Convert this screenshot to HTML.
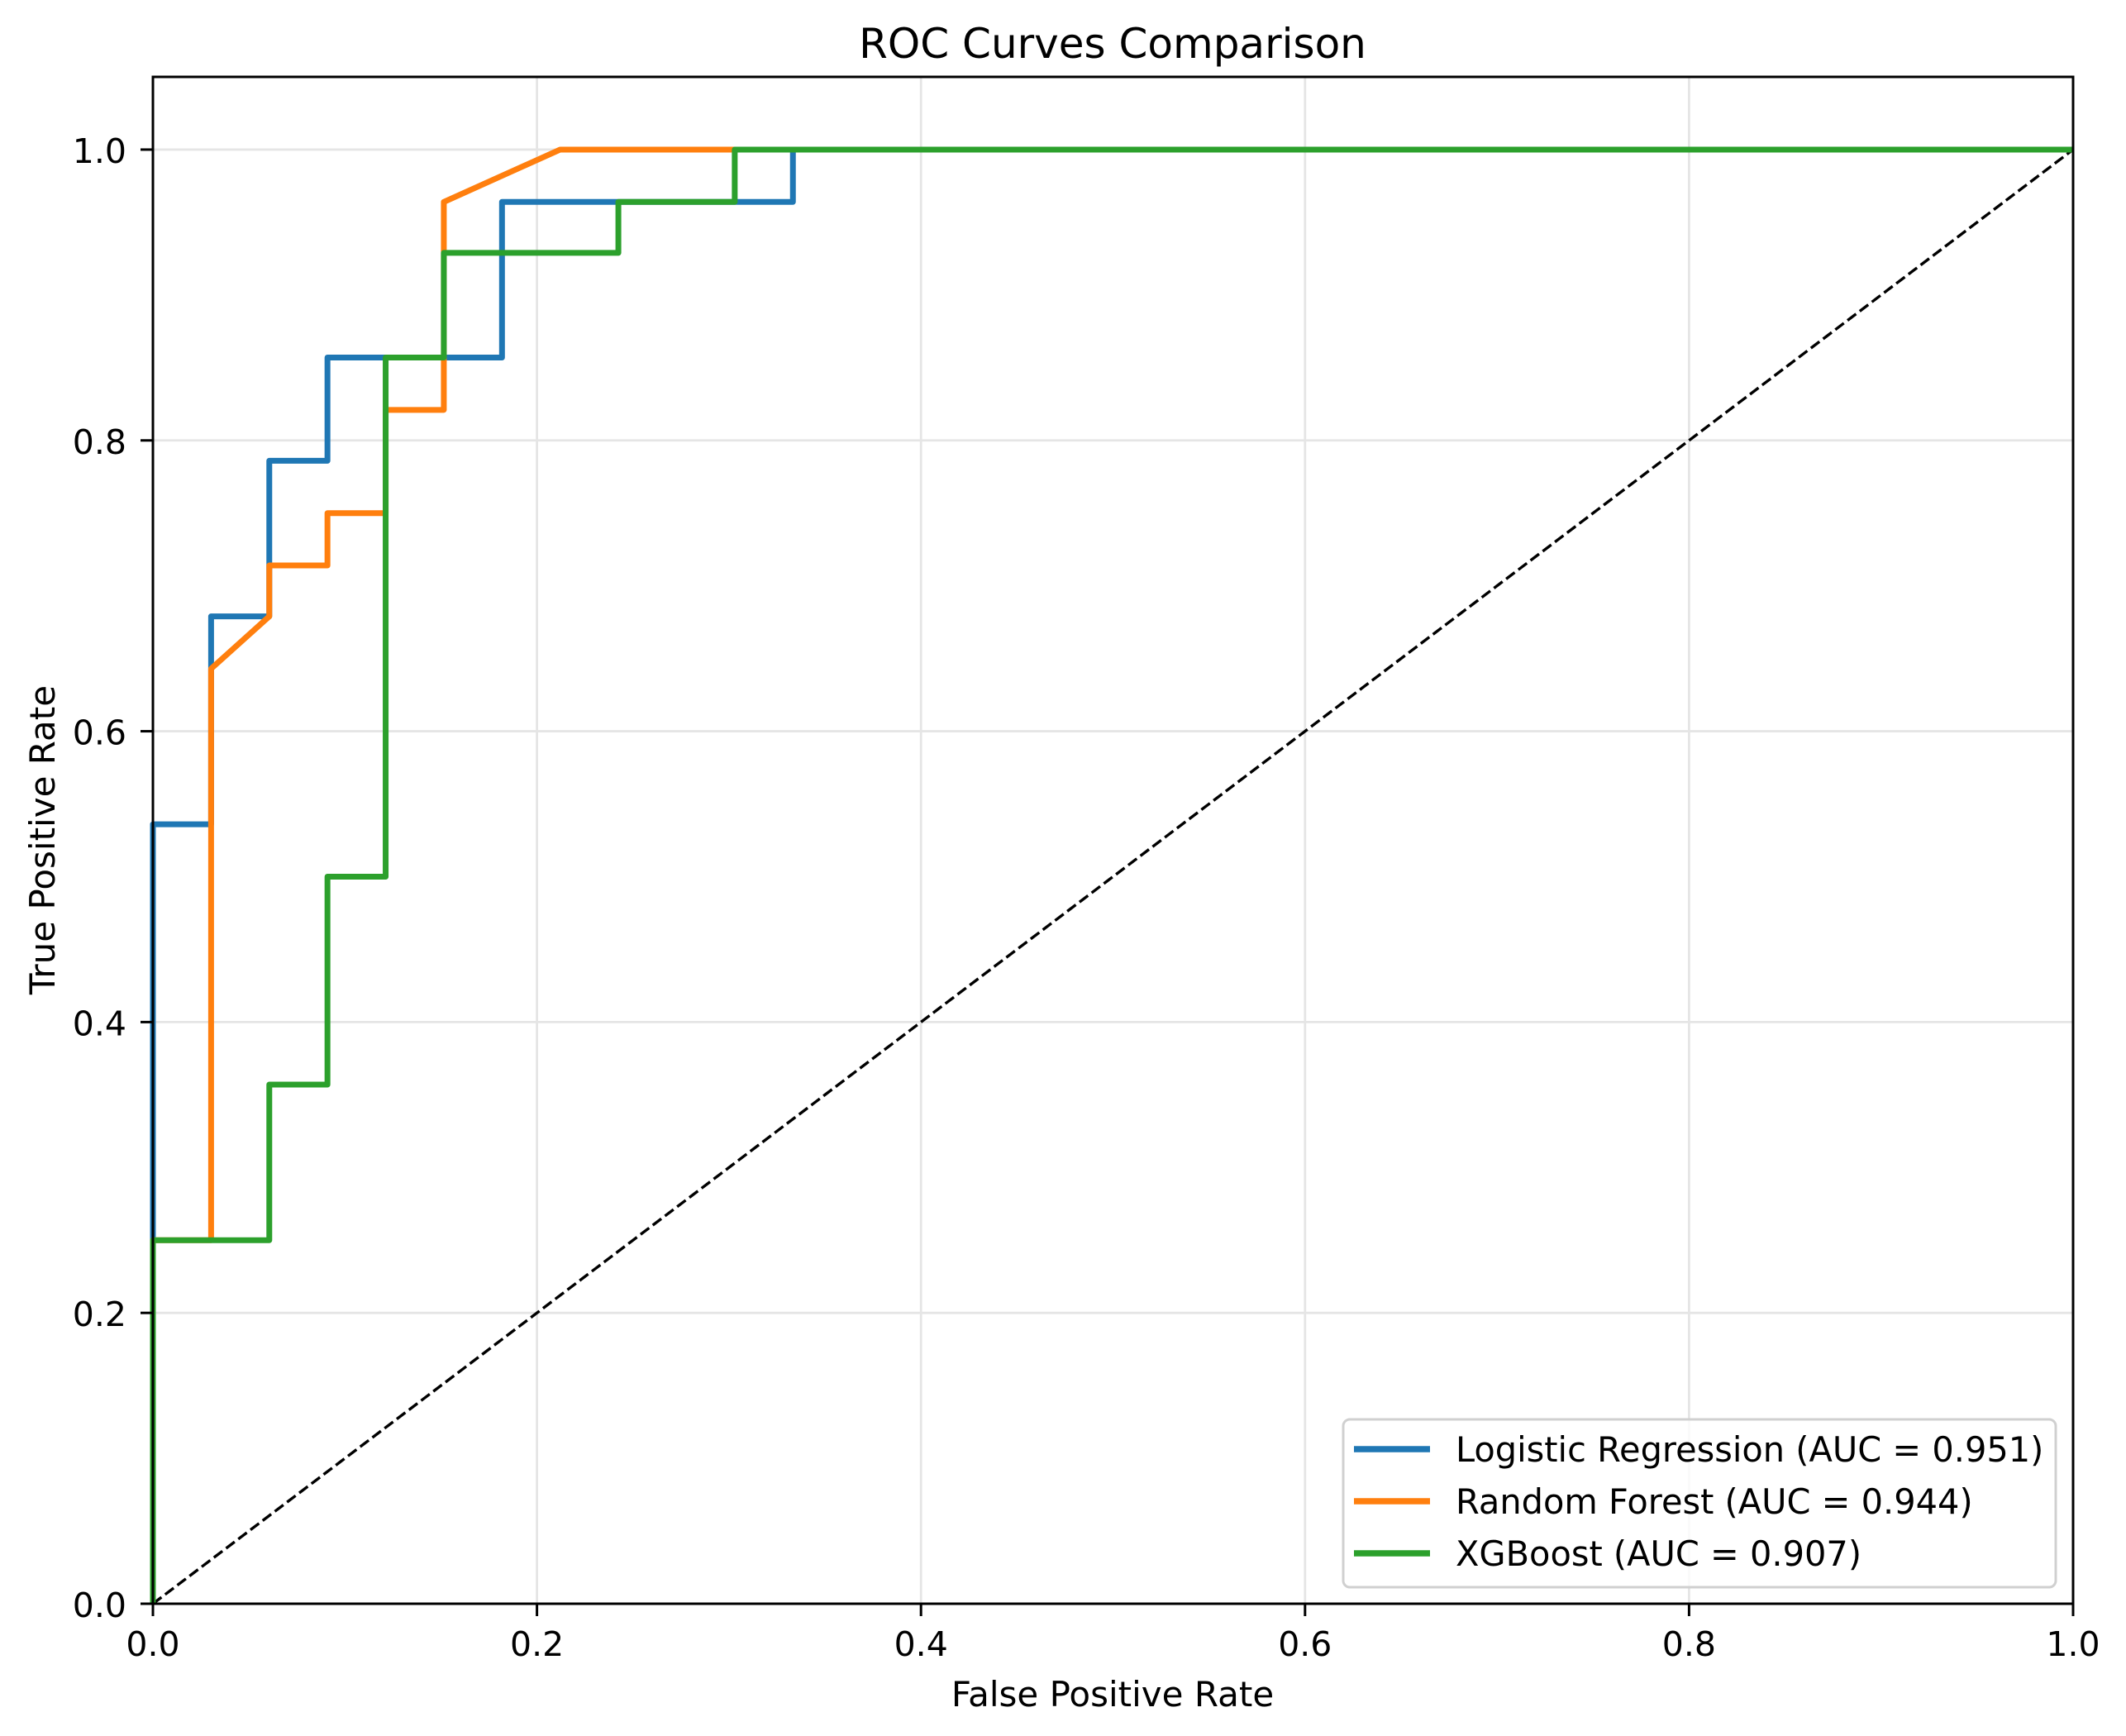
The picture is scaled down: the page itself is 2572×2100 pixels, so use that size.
<!DOCTYPE html>
<html><head><meta charset="utf-8"><style>
html,body{margin:0;padding:0;background:#fff;}
svg{display:block;font-family:"DejaVu Sans","Liberation Sans",sans-serif;}
</style></head><body>
<svg id="chart" width="2572" height="2100" viewBox="0 0 2572 2100">
<rect width="2572" height="2100" fill="#fff"/>
<g id="grid"></g>
<g id="diag"></g>
<g id="series"></g>
<rect x="185" y="93" width="2323" height="1847" fill="none" stroke="#000" stroke-width="3"/>
<g id="ticks"></g>
<text x="1346" y="70" text-anchor="middle" font-size="50">ROC Curves Comparison</text>
<text x="1346" y="2064" text-anchor="middle" font-size="42">False Positive Rate</text>
<text transform="translate(66,1016) rotate(-90)" text-anchor="middle" font-size="42">True Positive Rate</text>
<g id="legend"></g>
</svg>
<script>
const xTicks=[0,0.2,0.4,0.6,0.8,1.0];
const yTicks=[0,0.2,0.4,0.6,0.8,1.0];
const seriesNames=["Logistic Regression (AUC = 0.951)","Random Forest (AUC = 0.944)","XGBoost (AUC = 0.907)"];
const seriesColors=["#1f77b4","#ff7f0e","#2ca02c"];
const lrX=[0,0,0.0303,0.0303,0.0606,0.0606,0.0909,0.0909,0.1818,0.1818,0.3333,0.3333,1];
const lrY=[0,0.536,0.536,0.679,0.679,0.786,0.786,0.857,0.857,0.964,0.964,1,1];
const rfX=[0,0,0.0303,0.0303,0.0606,0.0606,0.0909,0.0909,0.1212,0.1212,0.1515,0.1515,0.2121,1];
const rfY=[0,0.25,0.25,0.643,0.679,0.714,0.714,0.75,0.75,0.821,0.821,0.964,1,1];
const xgX=[0,0,0.0606,0.0606,0.0909,0.0909,0.1212,0.1212,0.1515,0.1515,0.2424,0.2424,0.303,0.303,1];
const xgY=[0,0.25,0.25,0.357,0.357,0.5,0.5,0.857,0.857,0.929,0.929,0.964,0.964,1,1];
const L=185,R=2508,T=93,B=1940;
const sx=v=>L+(R-L)*v;
const sy=v=>B-(B-T)*v/1.05;
const NS="http://www.w3.org/2000/svg";
function mk(tag,parent){const e=document.createElementNS(NS,tag);parent.appendChild(e);return e;}
const grid=document.getElementById('grid'),ticks=document.getElementById('ticks');
xTicks.forEach(v=>{
 const g=mk('line',grid);g.setAttribute('x1',sx(v));g.setAttribute('x2',sx(v));g.setAttribute('y1',T);g.setAttribute('y2',B);g.setAttribute('stroke','#e5e5e5');g.setAttribute('stroke-width','2.8');
 
 
 const t=mk('line',ticks);t.setAttribute('x1',sx(v));t.setAttribute('x2',sx(v));t.setAttribute('y1',B);t.setAttribute('y2',B+15);t.setAttribute('stroke','#000');t.setAttribute('stroke-width','3');
 
 
 const l=mk('text',ticks);l.setAttribute('x',sx(v));l.setAttribute('y',2003);l.setAttribute('text-anchor','middle');l.setAttribute('font-size','41');l.textContent=v.toFixed(1);
 
 
});
yTicks.forEach(v=>{
 const g=mk('line',grid);g.setAttribute('y1',sy(v));g.setAttribute('y2',sy(v));g.setAttribute('x1',L);g.setAttribute('x2',R);g.setAttribute('stroke','#e5e5e5');g.setAttribute('stroke-width','2.8');
 
 
 const t=mk('line',ticks);t.setAttribute('y1',sy(v));t.setAttribute('y2',sy(v));t.setAttribute('x1',L-15);t.setAttribute('x2',L);t.setAttribute('stroke','#000');t.setAttribute('stroke-width','3');
 
 
 const l=mk('text',ticks);l.setAttribute('x',153);l.setAttribute('y',sy(v)+16);l.setAttribute('text-anchor','end');l.setAttribute('font-size','41');l.textContent=v.toFixed(1);
 
 
});
const d=mk('line',document.getElementById('diag'));
d.setAttribute('x1',sx(0));d.setAttribute('y1',sy(0));d.setAttribute('x2',sx(1));d.setAttribute('y2',sy(1));
d.setAttribute('stroke','#000');d.setAttribute('stroke-width','3.4');d.setAttribute('stroke-dasharray','13,5.5');


const all=[[lrX,lrY],[rfX,rfY],[xgX,xgY]];
const sNames=['logistic-regression-curve','random-forest-curve','xgboost-curve'];
const sg=document.getElementById('series');
all.forEach((s,i)=>{
 const p=mk('polyline',sg);
 p.setAttribute('points',s[0].map((x,j)=>sx(x)+','+sy(s[1][j])).join(' '));
 p.setAttribute('fill','none');p.setAttribute('stroke',seriesColors[i]);p.setAttribute('stroke-width','7');p.setAttribute('stroke-linejoin','round');
 
 
});
const lg=document.getElementById('legend');
const box=mk('rect',lg);
box.setAttribute('x',1625);box.setAttribute('y',1717);box.setAttribute('width',862);box.setAttribute('height',203);box.setAttribute('rx',8);
box.setAttribute('fill','#fff');box.setAttribute('fill-opacity','0.8');box.setAttribute('stroke','#d0d0d0');box.setAttribute('stroke-width','3');


seriesNames.forEach((n,i)=>{
 const y=1753+i*63;
 const ln=mk('line',lg);ln.setAttribute('x1',1638);ln.setAttribute('x2',1730);ln.setAttribute('y1',y);ln.setAttribute('y2',y);ln.setAttribute('stroke',seriesColors[i]);ln.setAttribute('stroke-width','7.5');
 
 
 const t=mk('text',lg);t.setAttribute('x',1761);t.setAttribute('y',y+15);t.setAttribute('font-size','41.5');t.textContent=n;
 
 
});
</script>
</body></html>
